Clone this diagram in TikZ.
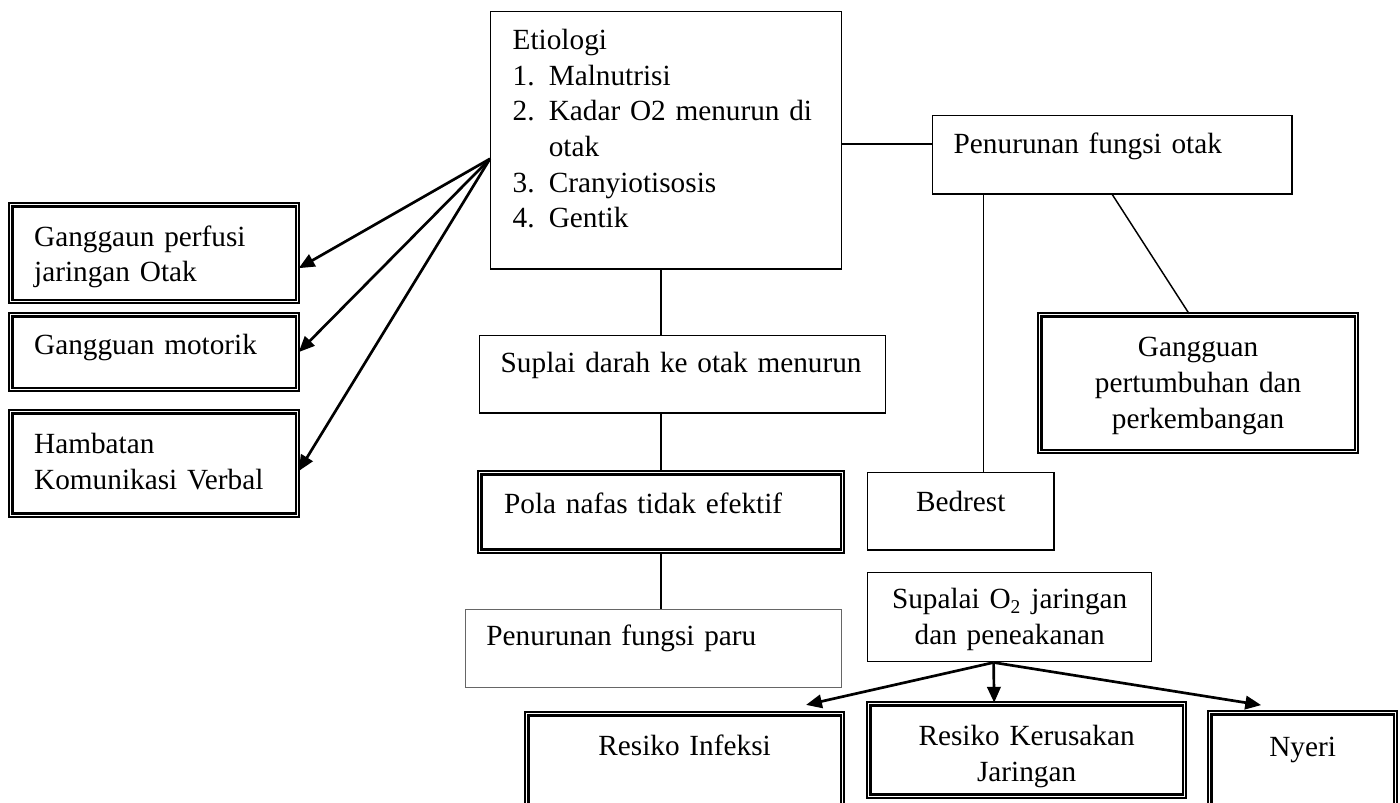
\documentclass[tikz,border=0pt]{standalone}
\usepackage{fontspec}
\setmainfont{Liberation Serif}
\usetikzlibrary{arrows.meta}
\tikzset{
  box/.style={draw, line width=0.6pt, anchor=north west, inner ysep=0pt, align=left,
    font=\fontsize{12pt}{14.6pt}\selectfont},
  dbox/.style={box, line width=0.9pt, double, double distance=0.55pt},
  link/.style={line width=0.6pt},
  arr/.style={line width=1.1pt, -{Triangle[length=6.5pt,width=5.5pt]}}
}
\newcommand{\itm}[1]{\makebox[14.8pt][l]{#1}}

\begin{document}
\begin{tikzpicture}[x=0.41pt, y=-0.41pt]
  \useasboundingbox (0,0) rectangle (1400,803);

  % causes and brain
  \node[box, inner xsep=9pt, text width=125.9pt, text height=15.6pt, text depth=89.8pt] (etio) at (490,11)
    {Etiologi\\ \itm{1.}Malnutrisi\\ \itm{2.}Kadar O2 menurun di\\ \itm{}otak\\ \itm{3.}Cranyiotisosis\\ \itm{4.}Gentik};
  \node[box, inner xsep=8.6pt, text width=130pt, text height=15.6pt, text depth=16.4pt] (penotak) at (932,115)
    {Penurunan fungsi otak};
  \node[dbox, align=center, inner xsep=4.1pt, text width=121.6pt, text height=17.3pt, text depth=38.7pt] (tumbuh) at (1038.7,313.7)
    {Gangguan\\ pertumbuhan dan\\ perkembangan};
  \node[box, align=center, inner xsep=4.1pt, text width=68.1pt, text height=16pt, text depth=15.6pt] (bedrest) at (867,472)
    {Bedrest};

  % left column
  \node[dbox, inner xsep=9.6pt, text width=98.4pt, text height=16.9pt, text depth=22.7pt] (perfusi) at (9.7,203.7)
    {Ganggaun perfusi\\ jaringan Otak};
  \node[dbox, inner xsep=9.6pt, text width=98.4pt, text height=16.1pt, text depth=14.5pt] (motorik) at (9.7,313.7)
    {Gangguan motorik};
  \node[dbox, inner xsep=9.6pt, text width=98.4pt, text height=17.3pt, text depth=25.1pt] (hambatan) at (9.7,410.7)
    {Hambatan\\ Komunikasi Verbal};

  % middle column
  \node[box, inner xsep=8.6pt, text width=149.2pt, text height=15.2pt, text depth=16.4pt] (suplai) at (479,335)
    {Suplai darah ke otak menurun};
  \node[dbox, inner xsep=10pt, text width=128.7pt, text height=16.5pt, text depth=15.7pt] (pola) at (478.7,471.7)
    {Pola nafas tidak efektif};
  \node[box, draw=black!60, line width=0.4pt, inner xsep=8.6pt, text width=137pt, text height=14.8pt, text depth=17.2pt] (paru) at (465,609)
    {Penurunan fungsi paru};

  % bottom row
  \node[box, align=center, inner xsep=4.1pt, text width=108.2pt, text height=14.8pt, text depth=21.7pt] (sup) at (867,572)
    {Supalai O\textsubscript{2} jaringan\\ dan peneakanan};
  \node[dbox, align=center, inner xsep=4.1pt, text width=121.2pt, text height=17.3pt, text depth=23.4pt] (infeksi) at (525.7,712.7)
    {Resiko Infeksi};
  \node[dbox, align=center, inner xsep=4.1pt, text width=121.2pt, text height=17.3pt, text depth=20.6pt] (kerusakan) at (867.7,702.7)
    {Resiko Kerusakan\\ Jaringan};
  \node[dbox, align=center, inner xsep=4.1pt, text width=67.9pt, text height=17.8pt, text depth=23.4pt] (nyeri) at (1208.7,711.7)
    {Nyeri};

  % connectors
  \coordinate (src) at ([yshift=-7.6pt]etio.west);
  \draw[arr] (src) -- ([yshift=-6.2pt]perfusi.east);
  \draw[arr] (src) -- (motorik.east);
  \draw[arr] (src) -- ([yshift=-3.1pt]hambatan.east);

  \coordinate (otakin) at ([yshift=4.5pt]penotak.west);
  \coordinate (bedtop) at ([xshift=9.2pt]bedrest.north);
  \draw[link] (otakin) -- (otakin -| etio.east);
  \draw[link] (bedtop) -- (bedtop |- penotak.south);
  \draw[link] (penotak.south) -- ([xshift=-3.7pt]tumbuh.north);

  \draw[link] (pola.north |- etio.south) -- (pola.north |- suplai.north);
  \draw[link] (pola.north |- suplai.south) -- (pola.north);
  \draw[link] (pola.south) -- (pola.south |- paru.north);

  \coordinate (split) at ([xshift=-6.6pt]sup.south);
  \draw[arr] (split) -- ([xshift=49.8pt,yshift=3.2pt]infeksi.north);
  \draw[arr] (split) -- ([xshift=-13.3pt]kerusakan.north);
  \draw[arr] (split) -- ([xshift=-17pt,yshift=2.7pt]nyeri.north);
\end{tikzpicture}
\end{document}
